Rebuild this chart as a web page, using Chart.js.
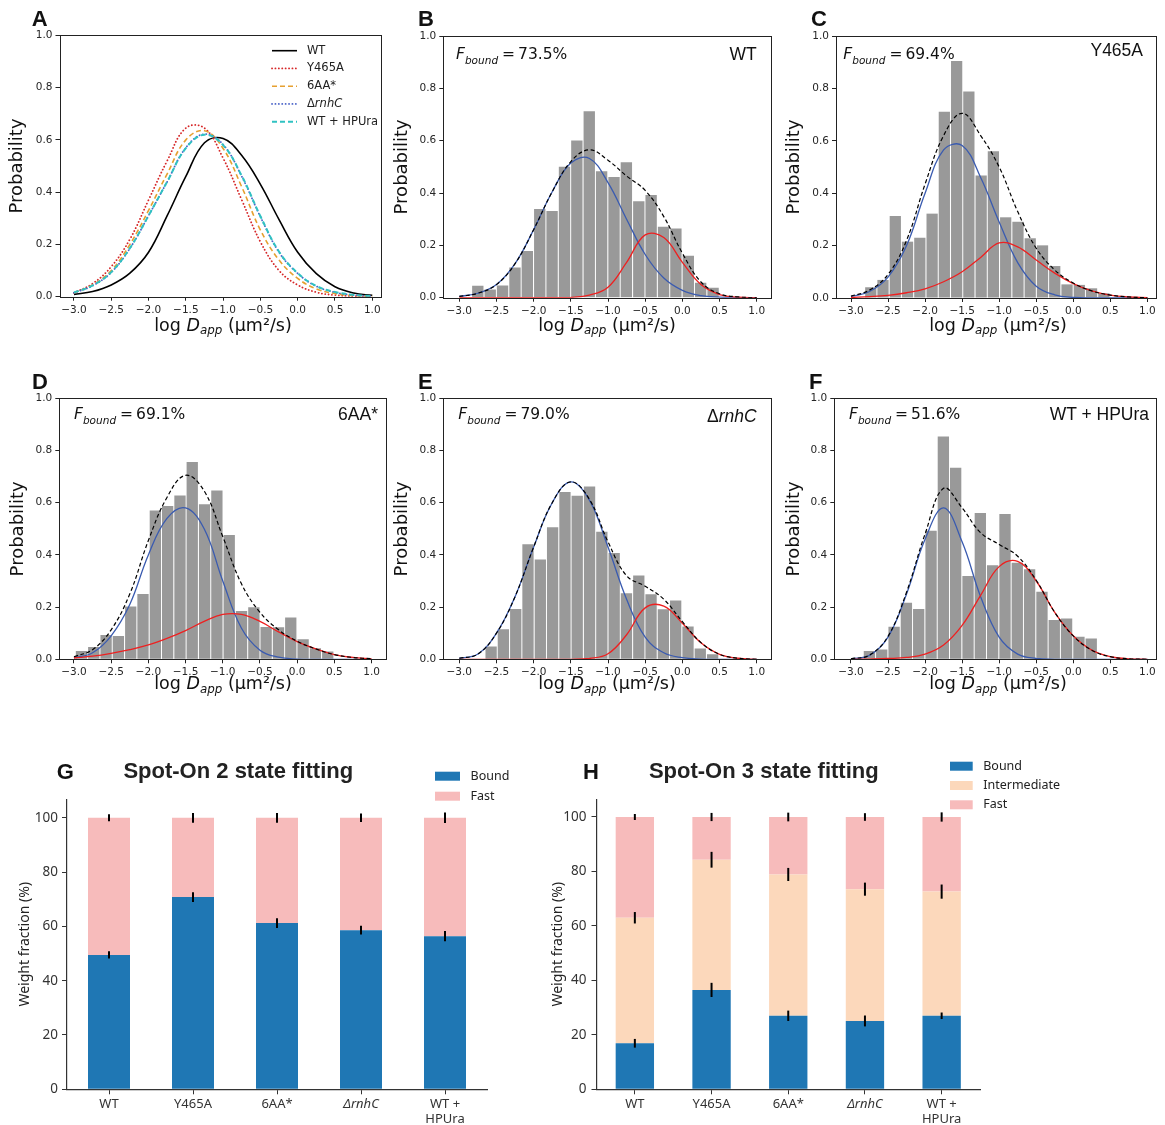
<!DOCTYPE html>
<html>
<head>
<meta charset="utf-8">
<script src="https://cdn.jsdelivr.net/npm/chart.js@4.4.1/dist/chart.umd.min.js"></script>
<style>
  body { margin: 0; background: #fff; }
  #fig { position: relative; width: 1165px; height: 1125px; overflow: hidden; background: #fff; }
  #fig canvas { position: absolute; }
  .t { position: absolute; line-height: 1; white-space: nowrap; color: #111; }
  .letter { font: bold 22px "Liberation Sans", Arial, sans-serif; }
  .xtitle { font: 17.5px "DejaVu Sans", sans-serif; transform: translateX(-50%); }
  .fbound { font: 15.5px "DejaVu Sans", sans-serif; }
  .strain { font: 17.5px "Liberation Sans", Arial, sans-serif; transform: translateX(-100%); }
  .title { font: bold 22px "Liberation Sans", Arial, sans-serif; transform: translateX(-50%); color: #222; }
  .sub { font-size: 68%; position: relative; top: 0.3em; font-style: italic; }
  .fbound .sub { top: 0.42em; }
</style>
</head>
<body>
<div id="fig"></div>
<script>
// ---- axis ticks / sample grid ----
const xTickVals = [-3, -2.5, -2, -1.5, -1, -0.5, 0, 0.5, 1];
const probTicks = [0, 0.2, 0.4, 0.6, 0.8, 1];
const pctTicks = [0, 20, 40, 60, 80, 100];
const fitX = [-3, -2.75, -2.5, -2.25, -2, -1.75, -1.5, -1.25, -1, -0.75, -0.5, -0.25, 0, 0.25, 0.5, 0.75, 1];

// ---- panel A: overall fitted distributions ----
const strains = ['WT', 'Y465A', '6AA*', 'ΔrnhC', 'WT + HPUra'];
const fitWT    = [0.009, 0.02, 0.045, 0.09, 0.17, 0.31, 0.46, 0.589, 0.605, 0.54, 0.43, 0.295, 0.17, 0.088, 0.038, 0.014, 0.005];
const fitY465A = [0.015, 0.05, 0.115, 0.22, 0.37, 0.52, 0.645, 0.645, 0.53, 0.37, 0.21, 0.10, 0.045, 0.017, 0.006, 0.002, 0.001];
const fit6AA   = [0.015, 0.045, 0.10, 0.20, 0.33, 0.47, 0.60, 0.635, 0.567, 0.42, 0.255, 0.14, 0.07, 0.03, 0.012, 0.004, 0.001];
const fitRnhC  = [0.015, 0.042, 0.093, 0.185, 0.31, 0.44, 0.57, 0.622, 0.582, 0.46, 0.306, 0.17, 0.089, 0.04, 0.017, 0.006, 0.002];
const fitHPUra = [0.016, 0.043, 0.094, 0.186, 0.31, 0.44, 0.568, 0.62, 0.58, 0.462, 0.308, 0.172, 0.09, 0.041, 0.018, 0.007, 0.002];

// ---- panels B-F: histograms + bound / fast / total fits ----
const fBound = [73.5, 69.4, 69.1, 79.0, 51.6];

const binsB  = [-2.751, -2.584, -2.418, -2.251, -2.085, -1.918, -1.752, -1.585, -1.419, -1.252, -1.086, -0.919, -0.753, -0.586, -0.420, -0.253, -0.087, 0.080, 0.246, 0.413];
const histB  = [0.046, 0.031, 0.047, 0.115, 0.178, 0.339, 0.331, 0.50, 0.601, 0.712, 0.483, 0.461, 0.518, 0.369, 0.392, 0.271, 0.264, 0.16, 0.057, 0.038];
const boundB = [0.005, 0.017, 0.05, 0.13, 0.26, 0.405, 0.515, 0.532, 0.44, 0.30, 0.165, 0.075, 0.028, 0.008, 0.002, 0, 0];
const fastB  = [0, 0, 0, 0, 0, 0, 0.001, 0.01, 0.04, 0.135, 0.24, 0.23, 0.135, 0.05, 0.012, 0.002, 0];
const totalB = [0.005, 0.017, 0.05, 0.13, 0.26, 0.405, 0.52, 0.565, 0.525, 0.465, 0.41, 0.31, 0.17, 0.06, 0.015, 0.003, 0];

const binsC  = [-2.733, -2.568, -2.402, -2.237, -2.071, -1.905, -1.740, -1.574, -1.409, -1.243, -1.078, -0.912, -0.746, -0.581, -0.415, -0.250, -0.084, 0.082, 0.247, 0.413];
const histC  = [0.041, 0.069, 0.313, 0.215, 0.23, 0.322, 0.711, 0.905, 0.788, 0.468, 0.56, 0.308, 0.291, 0.228, 0.201, 0.122, 0.052, 0.05, 0.037, 0.018];
const boundC = [0.005, 0.025, 0.08, 0.2, 0.4, 0.565, 0.582, 0.46, 0.29, 0.135, 0.045, 0.012, 0.002, 0, 0, 0, 0];
const fastC  = [0.002, 0.005, 0.01, 0.02, 0.035, 0.062, 0.10, 0.155, 0.21, 0.195, 0.145, 0.095, 0.055, 0.027, 0.011, 0.004, 0.001];
const totalC = [0.007, 0.03, 0.09, 0.22, 0.435, 0.62, 0.705, 0.62, 0.50, 0.33, 0.19, 0.107, 0.057, 0.027, 0.011, 0.004, 0.001];

const binsD  = [-2.899, -2.734, -2.568, -2.403, -2.237, -2.072, -1.906, -1.741, -1.575, -1.410, -1.244, -1.079, -0.913, -0.748, -0.582, -0.417, -0.251, -0.086, 0.080, 0.245, 0.411];
const histD  = [0.032, 0.047, 0.093, 0.089, 0.202, 0.25, 0.57, 0.587, 0.628, 0.756, 0.594, 0.647, 0.476, 0.185, 0.199, 0.124, 0.123, 0.16, 0.077, 0.042, 0.03];
const boundD = [0.005, 0.025, 0.09, 0.21, 0.40, 0.54, 0.58, 0.50, 0.30, 0.12, 0.035, 0.008, 0.001, 0, 0, 0, 0];
const fastD  = [0.005, 0.012, 0.023, 0.037, 0.055, 0.08, 0.11, 0.145, 0.172, 0.172, 0.145, 0.105, 0.068, 0.04, 0.018, 0.007, 0.002];
const totalD = [0.01, 0.037, 0.113, 0.25, 0.455, 0.62, 0.705, 0.645, 0.47, 0.29, 0.18, 0.113, 0.069, 0.04, 0.018, 0.007, 0.002];

const binsE  = [-2.572, -2.407, -2.241, -2.076, -1.910, -1.745, -1.579, -1.414, -1.248, -1.083, -0.917, -0.752, -0.586, -0.421, -0.255, -0.090, 0.076, 0.241, 0.407];
const histE  = [0.049, 0.115, 0.193, 0.441, 0.382, 0.506, 0.641, 0.627, 0.662, 0.489, 0.407, 0.253, 0.321, 0.249, 0.192, 0.225, 0.126, 0.041, 0.019];
const boundE = [0.004, 0.02, 0.10, 0.24, 0.43, 0.60, 0.68, 0.61, 0.43, 0.23, 0.085, 0.025, 0.006, 0.001, 0, 0, 0];
const fastE  = [0, 0, 0, 0, 0, 0, 0, 0.003, 0.021, 0.094, 0.197, 0.204, 0.138, 0.063, 0.019, 0.004, 0];
const totalE = [0.004, 0.02, 0.10, 0.24, 0.43, 0.60, 0.68, 0.613, 0.45, 0.32, 0.28, 0.23, 0.144, 0.064, 0.019, 0.004, 0];

const binsF  = [-2.751, -2.585, -2.418, -2.252, -2.086, -1.919, -1.753, -1.587, -1.420, -1.254, -1.088, -0.921, -0.755, -0.589, -0.422, -0.256, -0.090, 0.077, 0.243];
const histF  = [0.032, 0.038, 0.125, 0.217, 0.193, 0.493, 0.854, 0.734, 0.319, 0.561, 0.36, 0.557, 0.37, 0.345, 0.259, 0.151, 0.156, 0.086, 0.08];
const boundF = [0.002, 0.015, 0.085, 0.25, 0.46, 0.58, 0.45, 0.24, 0.085, 0.02, 0.003, 0, 0, 0, 0, 0, 0];
const fastF  = [0, 0.001, 0.003, 0.007, 0.02, 0.055, 0.13, 0.245, 0.355, 0.375, 0.30, 0.18, 0.09, 0.035, 0.01, 0.002, 0];
const totalF = [0.002, 0.016, 0.088, 0.257, 0.48, 0.655, 0.58, 0.485, 0.44, 0.395, 0.303, 0.18, 0.09, 0.035, 0.01, 0.002, 0];

// ---- panels G / H: Spot-On weight fractions ----
const groups = ['WT', 'Y465A', '6AA*', 'ΔrnhC', ['WT +', 'HPUra']];
const bound2    = [49.5, 70.8, 61.2, 58.6, 56.4];
const fast2     = [50.5, 29.2, 38.8, 41.4, 43.6];
const bound2Err = [1.3, 1.8, 1.8, 1.6, 1.9];
const fast2Err  = [1.3, 1.8, 1.8, 1.6, 1.9];

const bound3    = [16.9, 36.5, 27.0, 25.1, 27.0];
const inter3    = [46.1, 47.8, 51.9, 48.4, 45.6];
const fast3     = [37.0, 15.7, 21.1, 26.5, 27.4];
const bound3Err = [1.6, 2.6, 1.9, 2.0, 1.2];
const inter3Err = [2.1, 2.9, 2.4, 2.4, 2.6];
const fast3Err  = [1.1, 1.5, 1.6, 1.4, 1.7];

// ---------------------------------------------------------------
const fig = document.getElementById('fig');

function addCanvas(x, y, w, h) {
    const c = document.createElement('canvas');
    c.width = w; c.height = h;
    c.style.left = x + 'px'; c.style.top = y + 'px';
    c.style.width = w + 'px'; c.style.height = h + 'px';
    fig.appendChild(c);
    return c;
}

function addLabel(html, cls, x, base, fs) {
    const d = document.createElement('div');
    d.className = 't ' + cls;
    d.innerHTML = html;
    d.style.left = x + 'px';
    d.style.top = (base - 0.846 * fs) + 'px';
    fig.appendChild(d);
}

function pts(xs, ys) {
    return xs.map((x, i) => ({x: x, y: ys[i]}));
}

const fmtX = v => (v < 0 ? '\u2212' : '') + Math.abs(v).toFixed(1);
const tickFont = {family: 'DejaVu Sans', size: 10.5};

// full box round the plot, like the matplotlib spines
const boxFrame = {
    id: 'boxFrame',
    afterDatasetsDraw(chart) {
        const {ctx, chartArea: a} = chart;
        const l = Math.round(a.left), t = Math.round(a.top), r = Math.round(a.right), b = Math.round(a.bottom);
        ctx.save();
        ctx.strokeStyle = '#222';
        ctx.lineWidth = 1;
        ctx.strokeRect(l + 0.5, t + 0.5, r - l, b - t);
        ctx.restore();
    }
};

function distOptions(p) {
    return {
        responsive: false, animation: false, devicePixelRatio: 1,
        layout: {padding: p.pad},
        plugins: {legend: {display: false}, tooltip: {enabled: false}},
        scales: {
            x: {
                type: 'linear', min: p.xmin, max: p.xmax, offset: false,
                afterBuildTicks: s => { s.ticks = xTickVals.map(v => ({value: v})); },
                afterFit: s => { s.height = 30; },
                grid: {offset: false, drawOnChartArea: false, tickLength: 4, color: '#222'},
                border: {display: false},
                ticks: {font: tickFont, color: '#262626', padding: 3, maxRotation: 0, autoSkip: false, callback: fmtX}
            },
            y: {
                min: 0, max: 1,
                afterBuildTicks: s => { s.ticks = probTicks.map(v => ({value: v})); },
                afterFit: s => { s.width = p.yW; },
                grid: {drawOnChartArea: false, tickLength: 4, color: '#222'},
                border: {display: false},
                ticks: {font: tickFont, color: '#262626', padding: 3, callback: v => v.toFixed(1)},
                title: {display: true, text: 'Probability', font: {family: 'DejaVu Sans', size: 18}, color: '#111', padding: {top: 4, bottom: 4}}
            }
        }
    };
}

function fitLine(label, ys, color, width, dash, order, cap) {
    return {
        type: 'line', label: label, data: pts(fitX, ys),
        borderColor: color, borderWidth: width, borderDash: dash, borderCapStyle: cap || 'butt',
        pointRadius: 0, tension: 0.4, fill: false, order: order
    };
}

// ---- panel A ----
const legendA = {
    id: 'legendA',
    afterDraw(chart) {
        const ctx = chart.ctx;
        ctx.save();
        chart.data.datasets.forEach((ds, i) => {
            const y = 50.7 + i * 17.75;
            ctx.strokeStyle = ds.borderColor;
            ctx.lineWidth = ds.borderWidth;
            ctx.lineCap = ds.borderCapStyle;
            ctx.setLineDash(ds.borderDash);
            ctx.beginPath(); ctx.moveTo(272, y); ctx.lineTo(297, y); ctx.stroke();
            ctx.setLineDash([]);
            ctx.fillStyle = '#222';
            ctx.textBaseline = 'middle';
            let x = 307;
            let txt = ds.label;
            if (txt.startsWith('Δ')) {
                ctx.font = '11.5px "DejaVu Sans"';
                ctx.fillText('Δ', x, y);
                x += ctx.measureText('Δ').width;
                txt = txt.slice(1);
                ctx.font = 'italic 11.5px "DejaVu Sans"';
            } else {
                ctx.font = '11.5px "DejaVu Sans"';
            }
            ctx.fillText(txt, x, y);
        });
        ctx.restore();
    }
};

new Chart(addCanvas(0, 0, 395, 345), {
    type: 'line',
    data: {
        datasets: [
            fitLine(strains[0], fitWT, '#000000', 1.6, [], 4),
            fitLine(strains[1], fitY465A, '#d62728', 1.8, [0.1, 3.3], 3, 'round'),
            fitLine(strains[2], fit6AA, '#e6a030', 1.6, [5, 3], 2),
            fitLine(strains[3], fitRnhC, '#4a63c8', 1.8, [0.1, 3.3], 1, 'round'),
            fitLine(strains[4], fitHPUra, '#30c2c2', 2, [5, 3], 0)
        ]
    },
    options: distOptions({pad: {left: 3.0, top: 35.3, right: 14, bottom: 18.3}, yW: 56.5, xmin: -3.194, xmax: 1.117}),
    plugins: [boxFrame, legendA]
});

// ---- panels B-F ----
const panels = [
    {c: [385, 0, 395, 345], pad: {left: 2.2, top: 36, right: 9, bottom: 17.3}, yW: 56.1, xmin: -3.215, xmax: 1.192,
     bins: binsB, hist: histB, bound: boundB, fast: fastB, total: totalB},
    {c: [775, 0, 390, 345], pad: {left: 4.2, top: 36, right: 9, bottom: 17}, yW: 56.8, xmin: -3.2025, xmax: 1.117,
     bins: binsC, hist: histC, bound: boundC, fast: fastC, total: totalC},
    {c: [0, 360, 395, 345], pad: {left: 4.0, top: 38.3, right: 9.3, bottom: 15.7}, yW: 55.3, xmin: -3.197, xmax: 1.19,
     bins: binsD, hist: histD, bound: boundD, fast: fastD, total: totalD},
    {c: [385, 360, 395, 345], pad: {left: 2.2, top: 38.3, right: 9, bottom: 15.7}, yW: 56.1, xmin: -3.215, xmax: 1.192,
     bins: binsE, hist: histE, bound: boundE, fast: fastE, total: totalE},
    {c: [775, 360, 390, 345], pad: {left: 4.2, top: 38.3, right: 9, bottom: 15.7}, yW: 55.1, xmin: -3.225, xmax: 1.117,
     bins: binsF, hist: histF, bound: boundF, fast: fastF, total: totalF}
];

panels.forEach(p => {
    new Chart(addCanvas(p.c[0], p.c[1], p.c[2], p.c[3]), {
        type: 'bar',
        data: {
            datasets: [
                fitLine('total', p.total, '#000000', 1.2, [4, 2.5], 0),
                fitLine('fast', p.fast, '#ee2020', 1.3, [], 1),
                fitLine('bound', p.bound, '#3a5bb0', 1.3, [], 2),
                {type: 'bar', label: 'data', data: pts(p.bins, p.hist), backgroundColor: '#999999',
                 borderWidth: 0, barPercentage: 0.92, categoryPercentage: 1, order: 10}
            ]
        },
        options: distOptions(p),
        plugins: [boxFrame]
    });
});

// ---- panels G / H ----
const errorBars = {
    id: 'errorBars',
    afterDatasetsDraw(chart) {
        const {ctx} = chart;
        const y = chart.scales.y;
        const cum = [];
        ctx.save();
        ctx.strokeStyle = '#000';
        ctx.lineWidth = 2;
        chart.data.datasets.forEach((ds, d) => {
            const meta = chart.getDatasetMeta(d);
            ds.data.forEach((v, i) => {
                cum[i] = (cum[i] || 0) + v;
                const x = meta.data[i].x;
                ctx.beginPath();
                ctx.moveTo(x, y.getPixelForValue(cum[i] - ds.errors[i]));
                ctx.lineTo(x, y.getPixelForValue(cum[i] + ds.errors[i]));
                ctx.stroke();
            });
        });
        ctx.restore();
    }
};

function boxLegend(x, y0, dy, w) {
    return {
        id: 'boxLegend',
        afterDraw(chart) {
            const ctx = chart.ctx;
            ctx.save();
            ctx.font = '12.5px "Noto Sans"';
            ctx.textBaseline = 'middle';
            chart.data.datasets.forEach((ds, i) => {
                const y = y0 + i * dy;
                ctx.fillStyle = ds.backgroundColor;
                ctx.fillRect(x, y, w, 9);
                ctx.fillStyle = '#222';
                ctx.fillText(ds.label, x + w + 10.5, y + 4.5);
            });
            ctx.restore();
        }
    };
}

function fractionChart(canvas, p, datasets, legend) {
    new Chart(canvas, {
        type: 'bar',
        data: {labels: groups, datasets: datasets},
        options: {
            responsive: false, animation: false, devicePixelRatio: 1,
            layout: {padding: p.pad},
            plugins: {legend: {display: false}, tooltip: {enabled: false}},
            scales: {
                x: {
                    stacked: true,
                    afterFit: s => { s.height = 34; },
                    grid: {offset: false, drawOnChartArea: false, tickLength: 5, color: '#333'},
                    border: {display: true, color: '#333', width: 1.2},
                    ticks: {
                        font: ctx => ({family: 'Noto Sans', size: 13, style: ctx.index === 3 ? 'italic' : 'normal'}),
                        color: '#333', padding: 2, maxRotation: 0, autoSkip: false
                    }
                },
                y: {
                    stacked: true, min: 0, max: p.ymax,
                    afterBuildTicks: s => { s.ticks = pctTicks.map(v => ({value: v})); },
                    afterFit: s => { s.width = p.yW; },
                    grid: {drawOnChartArea: false, tickLength: 5, color: '#333'},
                    border: {display: true, color: '#333', width: 1.2},
                    ticks: {font: {family: 'Noto Sans', size: 13.5}, color: '#333', padding: p.tickPad},
                    title: {display: true, text: 'Weight fraction (%)', font: {family: 'Noto Sans', size: 14}, color: '#222', padding: {top: 4, bottom: 4}}
                }
            }
        },
        plugins: [errorBars, legend]
    });
}

const boundColor = '#1f77b4', interColor = '#fcd8bb', fastColor = '#f7bbbb';

fractionChart(addCanvas(0, 740, 555, 385),
    {pad: {left: 12.6, top: 59.3, right: 68, bottom: 1.7}, yW: 54.4, ymax: 106.8, tickPad: 4},
    [
        {label: 'Bound', data: bound2, errors: bound2Err, backgroundColor: boundColor, barPercentage: 0.5, categoryPercentage: 1},
        {label: 'Fast', data: fast2, errors: fast2Err, backgroundColor: fastColor, barPercentage: 0.5, categoryPercentage: 1}
    ],
    boxLegend(435, 31.7, 20, 25));

fractionChart(addCanvas(540, 740, 625, 385),
    {pad: {left: 5.6, top: 59.3, right: 185, bottom: 1.7}, yW: 50.9, ymax: 106.5, tickPad: 5},
    [
        {label: 'Bound', data: bound3, errors: bound3Err, backgroundColor: boundColor, barPercentage: 0.5, categoryPercentage: 1},
        {label: 'Intermediate', data: inter3, errors: inter3Err, backgroundColor: interColor, barPercentage: 0.5, categoryPercentage: 1},
        {label: 'Fast', data: fast3, errors: fast3Err, backgroundColor: fastColor, barPercentage: 0.5, categoryPercentage: 1}
    ],
    boxLegend(410, 21.7, 19.3, 22.7));

// ---- text: panel letters, axis titles, annotations ----
[['A', 31.7, 24.3], ['B', 418, 24.3], ['C', 811, 24.3],
 ['D', 32, 387.3], ['E', 418, 387.3], ['F', 809, 387.3]].forEach(l => addLabel(l[0], 'letter', l[1], l[2], 22));
addLabel('G', 'letter', 56.7, 776.7, 21);
addLabel('H', 'letter', 583, 776.7, 21);

const xTitle = 'log <i>D</i><span class="sub">app</span> (µm²/s)';
[223, 607, 998].forEach(x => {
    addLabel(xTitle, 'xtitle', x, 329.5, 17.5);
    addLabel(xTitle, 'xtitle', x, 688, 17.5);
});

const fbPos = [[456, 58.3], [843.3, 58.3], [74, 418.3], [458.3, 418.3], [849, 418.3]];
fBound.forEach((v, i) => {
    addLabel('<i>F</i><span class="sub">bound</span><span style="margin:0 3px 0 4px">=</span>' + v.toFixed(1) + '%',
        'fbound', fbPos[i][0], fbPos[i][1], 15.5);
});

const strainPos = [[756.7, 58.5], [1143, 55], [378, 419], [756.7, 420.5], [1149, 419.3]];
['WT', 'Y465A', '6AA*', 'Δ<i>rnhC</i>', 'WT + HPUra'].forEach((s, i) => {
    addLabel(s, 'strain', strainPos[i][0], strainPos[i][1], 17.5);
});

addLabel('Spot-On 2 state fitting', 'title', 238.3, 777, 22);
addLabel('Spot-On 3 state fitting', 'title', 763.8, 777, 22);
</script>
</body>
</html>
